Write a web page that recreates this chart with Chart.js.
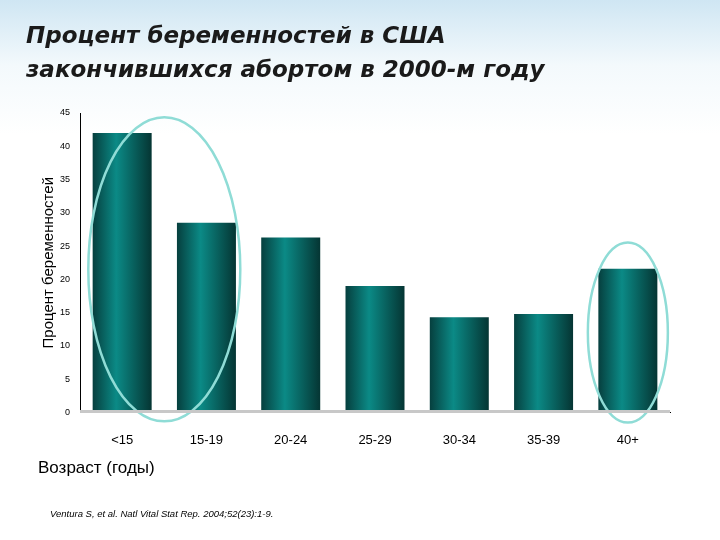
<!DOCTYPE html><html><head><meta charset="utf-8">
<script src="https://cdn.jsdelivr.net/npm/chart.js@4/dist/chart.umd.min.js"></script>
<style>body{margin:0;width:720px;height:540px;overflow:hidden;background:linear-gradient(180deg,#cfe6f3 0%,#f3f9fc 12%,#fff 25%);font-family:"Liberation Sans",Arial,sans-serif;position:relative}
#t{position:absolute;left:26px;top:18px;font:italic bold 23px "DejaVu Sans",sans-serif;color:#1a1a1a;line-height:34px}
#x{position:absolute;left:38px;top:458px;font-size:17px;color:#000}
#c{position:absolute;left:50px;top:508px;font:italic 9.5px "Liberation Sans",Arial;color:#000}
#w{position:absolute;left:0;top:0;width:720px;height:540px}</style></head><body>
<div id="w"><canvas id="cv"></canvas></div>
<div id="t">Процент беременностей в США<br>закончившихся абортом в 2000-м году</div>
<div id="x">Возраст (годы)</div>
<div id="c">Ventura S, et al. Natl Vital Stat Rep. 2004;52(23):1-9.</div>
<script>
const categories=["<15","15-19","20-24","25-29","30-34","35-39","40+"];
const values=[42.0,28.5,26.3,19.0,14.3,14.8,21.6];
const yTicks=[0,5,10,15,20,25,30,35,40,45];
function grad(ctx){const c=ctx.chart,a=c.chartArea;if(!a)return '#0a6f6c';const xs=c.scales.x;const cx=xs.getPixelForValue(ctx.dataIndex);const w=xs.width/categories.length*0.7;const g=c.ctx.createLinearGradient(cx-w/2,0,cx+w/2,0);g.addColorStop(0,'#063f3e');g.addColorStop(0.4,'#0b8a86');g.addColorStop(1,'#053533');return g;}
const ellipses={id:'ell',afterDatasetsDraw(c){const x=c.scales.x,y=c.scales.y,k=c.ctx;k.save();k.strokeStyle='#8fdcd6';k.lineWidth=2.5;
const e=(cx,cy,rx,ry)=>{k.beginPath();k.ellipse(cx,cy,rx,ry,0,0,Math.PI*2);k.stroke();};
e((x.getPixelForValue(0)+x.getPixelForValue(1))/2,y.getPixelForValue(21.5),76,152);
e(x.getPixelForValue(6),y.getPixelForValue(12),40,90);
k.strokeStyle='#c8c8c8';k.lineWidth=3;k.beginPath();k.moveTo(x.left,y.getPixelForValue(0)-1);k.lineTo(x.right,y.getPixelForValue(0)-1);k.stroke();k.restore();}};
new Chart(document.getElementById('cv'),{type:'bar',data:{labels:categories,datasets:[{data:values,backgroundColor:grad,barPercentage:0.7,categoryPercentage:1}]},
options:{responsive:true,maintainAspectRatio:false,animation:false,layout:{padding:{top:113,left:40,right:50,bottom:80}},plugins:{legend:{display:false},tooltip:{enabled:false}},
scales:{y:{min:0,max:45,afterBuildTicks(s){s.ticks=yTicks.map(v=>({value:v}))},grid:{display:false,drawTicks:true},border:{color:'#000'},ticks:{color:'#000',font:{size:9,family:'Liberation Sans'},padding:2},title:{display:true,text:'Процент беременностей',color:'#000',font:{size:15,family:'Liberation Sans'},padding:0}},
x:{grid:{display:false,offset:true},border:{color:'#000'},ticks:{color:'#000',font:{size:13,family:'Liberation Sans'},padding:12}}}},plugins:[ellipses]});
</script></body></html>
